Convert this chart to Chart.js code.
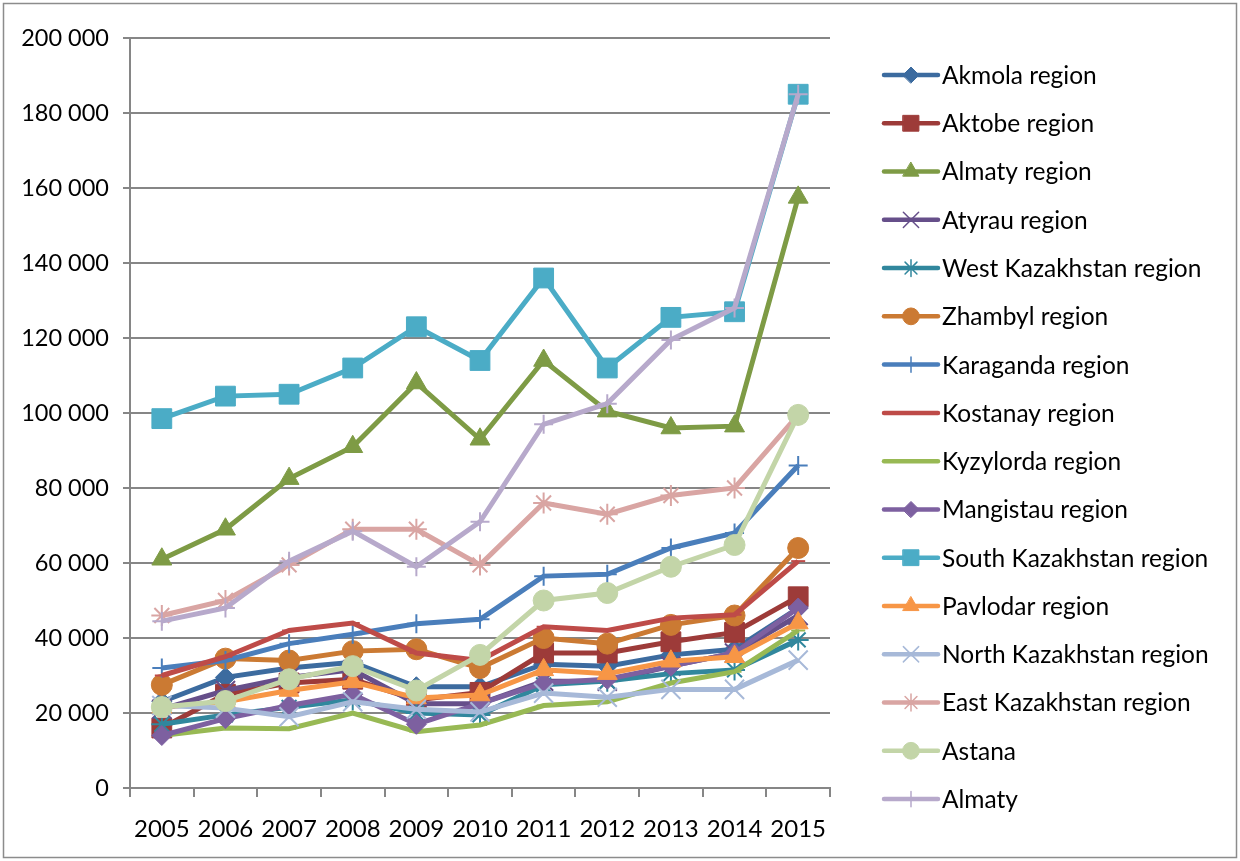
<!DOCTYPE html>
<html>
<head>
<meta charset="utf-8">
<title>Regions of Kazakhstan, 2005-2015</title>
<script src="https://cdn.jsdelivr.net/npm/chart.js@4.4.1/dist/chart.umd.min.js"></script>
<style>
  html, body { margin: 0; padding: 0; background: #fff; }
  #wrap { width: 1240px; height: 861px; }
</style>
</head>
<body>
<div id="wrap"><canvas id="chart" width="1240" height="861"></canvas></div>
<script>
// Years on the x axis
const years = ['2005', '2006', '2007', '2008', '2009', '2010', '2011', '2012', '2013', '2014', '2015'];

// Values per region
const akmola     = [23000, 29500, 32000, 33500, 27000, 27000, 33000, 32500, 35500, 37000, 48000];
const aktobe     = [16000, 25000, 28000, 29000, 23500, 25500, 36000, 36000, 39000, 41500, 51000];
const almatyReg  = [61000, 69000, 82500, 91000, 108000, 93000, 114000, 100500, 96000, 96500, 157500];
const atyrau     = [21000, 26000, 29500, 31500, 22500, 22500, 28500, 28500, 32500, 36000, 46000];
const westKaz    = [17000, 19500, 21500, 23500, 20000, 19500, 27500, 28500, 30500, 31500, 39500];
const zhambyl    = [27500, 34500, 34000, 36500, 37000, 32000, 40000, 38500, 43500, 46000, 64000];
const karaganda  = [32000, 34000, 38500, 41000, 43800, 45000, 56500, 57000, 64000, 68000, 86000];
const kostanay   = [30000, 35000, 42000, 44000, 36000, 34000, 43000, 42000, 45300, 46200, 60500];
const kyzylorda  = [14000, 16000, 15800, 20000, 15000, 16800, 22000, 23000, 28000, 31000, 42000];
const mangistau  = [14000, 18500, 22000, 25000, 17000, 22500, 28000, 29000, 32500, 36000, 48000];
const southKaz   = [98500, 104500, 105000, 112000, 123000, 114000, 136000, 112000, 125500, 127000, 185000];
const pavlodar   = [21500, 23000, 26000, 28300, 24000, 24800, 31500, 30500, 33800, 35000, 44000];
const northKaz   = [22000, 21300, 19000, 23000, 21000, 20300, 25300, 24200, 26300, 26300, 34100];
const eastKaz    = [46000, 50000, 59500, 69000, 69000, 59500, 76000, 73000, 78000, 80000, 99500];
const astana     = [21600, 23200, 29000, 32500, 26000, 35500, 50000, 52000, 59000, 64800, 99500];
const almatyCity = [44500, 48000, 60500, 68500, 59000, 71000, 97000, 102500, 119500, 128000, 185000];

// Series: label, values, colour, marker style, marker radius
const series = [
  ['Akmola region', akmola, '#3C6B9F', 'rectRot', 10],
  ['Aktobe region', aktobe, '#9D3B39', 'rect', 14],
  ['Almaty region', almatyReg, '#7E9B45', 'triangle', 11.5],
  ['Atyrau region', atyrau, '#664F8A', 'crossRot', 13.5],
  ['West Kazakhstan region', westKaz, '#31879D', 'star', 10.5],
  ['Zhambyl region', zhambyl, '#CB7A33', 'circle', 10.5],
  ['Karaganda region', karaganda, '#4A7EBB', 'cross', 9.5],
  ['Kostanay region', kostanay, '#BE4B48', 'line', 7],
  ['Kyzylorda region', kyzylorda, '#98B954', 'line', 7],
  ['Mangistau region', mangistau, '#7D60A0', 'rectRot', 10],
  ['South Kazakhstan region', southKaz, '#4BACC6', 'rect', 14],
  ['Pavlodar region', pavlodar, '#F79646', 'triangle', 11.5],
  ['North Kazakhstan region', northKaz, '#A7B9D8', 'crossRot', 13.5],
  ['East Kazakhstan region', eastKaz, '#D9A5A3', 'star', 10.5],
  ['Astana', astana, '#C3D5A8', 'circle', 10.5],
  ['Almaty', almatyCity, '#B7A9CB', 'cross', 9.5]
];

const lineMarkers = ['cross', 'crossRot', 'star', 'line'];
const FONT = 'Lato, "Liberation Sans", sans-serif';
const GRID = '#868686';

const datasets = series.map(([label, data, color, style, r], i) => ({
  label: label,
  data: data,
  borderColor: color,
  backgroundColor: color,
  borderWidth: 5,
  tension: 0,
  pointStyle: style,
  pointRadius: r,
  pointHoverRadius: r,
  pointBackgroundColor: color,
  pointBorderColor: color,
  pointBorderWidth: lineMarkers.includes(style) ? 2 : 1,
  order: series.length - i   // later series sit on top
}));

// Frame around the picture and the legend on the right
const extras = {
  id: 'extras',
  afterDraw(chart) {
    const ctx = chart.ctx;
    ctx.save();
    ctx.strokeStyle = '#8c8c8c';
    ctx.lineWidth = 1.5;
    ctx.strokeRect(3.5, 3.5, 1233, 854);

    const x0 = 884, x1 = 938, top = 75, step = 48.27;
    ctx.font = '24.5px ' + FONT;
    ctx.textBaseline = 'middle';
    series.forEach(([label, data, color, style, r], i) => {
      const y = top + i * step;
      ctx.strokeStyle = color;
      ctx.fillStyle = color;
      ctx.lineWidth = 4.5;
      ctx.lineCap = 'round';
      ctx.beginPath();
      ctx.moveTo(x0, y);
      ctx.lineTo(x1, y);
      ctx.stroke();
      if (Chart.helpers && Chart.helpers.drawPoint) {
        ctx.lineWidth = lineMarkers.includes(style) ? 1.5 : 1;
        Chart.helpers.drawPoint(ctx, {
          pointStyle: style,
          radius: r * 0.8,
          rotation: 0,
          borderWidth: lineMarkers.includes(style) ? 1.5 : 1
        }, (x0 + x1) / 2, y);
      }
      ctx.fillStyle = '#000';
      ctx.fillText(label, 942, y + 1);
    });
    ctx.restore();
  }
};

new Chart(document.getElementById('chart'), {
  type: 'line',
  data: { labels: years, datasets: datasets },
  options: {
    responsive: false,
    animation: false,
    events: [],
    layout: { padding: { left: 0, top: 38, right: 410, bottom: 0 } },
    plugins: {
      legend: { display: false },
      tooltip: { enabled: false }
    },
    scales: {
      x: {
        offset: true,
        grid: {
          offset: true,
          drawOnChartArea: false,
          color: GRID,
          lineWidth: 2,
          tickLength: 9
        },
        border: { color: GRID, width: 2 },
        ticks: {
          color: '#000',
          font: { family: FONT, size: 24 },
          padding: 18,
          maxRotation: 0,
          autoSkip: false
        },
        afterFit(scale) { scale.height = 73; }
      },
      y: {
        min: 0,
        max: 200000,
        grid: {
          color: GRID,
          lineWidth: 2,
          tickLength: 7
        },
        border: { color: GRID, width: 2 },
        ticks: {
          stepSize: 20000,
          color: '#000',
          font: { family: FONT, size: 23.5 },
          padding: 14,
          callback: v => String(v).replace(/\B(?=(\d{3})+(?!\d))/g, ' ')
        },
        afterFit(scale) { scale.width = 130; }
      }
    }
  },
  plugins: [extras]
});
</script>
</body>
</html>
